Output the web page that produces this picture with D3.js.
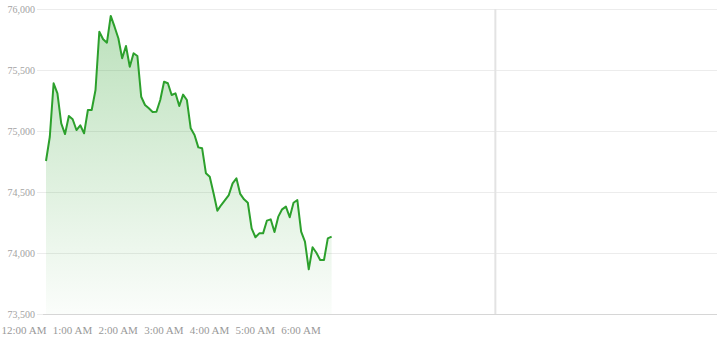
<!DOCTYPE html>
<html>
<head>
<meta charset="utf-8">
<script src="https://cdn.jsdelivr.net/npm/d3@7"></script>
<style>
  html, body { margin: 0; padding: 0; background: #fff; }
  svg { display: block; }
  .tick text { font-family: "Liberation Serif", "Times New Roman", serif; }
  .yax .tick text { font-size: 10px; fill: #a3a3a3; }
  .xax .tick text { font-size: 11px; fill: #999; }
</style>
</head>
<body>
<svg id="chart" width="718" height="340"></svg>
<script>
// ---- data (5-minute prices starting at 12:00 AM) ----
const startTime = "2024-01-01T00:00:00";
const intervalMinutes = 5;
const prices = [
  74754, 74953, 75391, 75309, 75063, 74975, 75123, 75096, 75008, 75047,
  74981, 75172, 75172, 75336, 75814, 75752, 75724, 75943, 75855, 75760,
  75596, 75697, 75527, 75637, 75615, 75281, 75213, 75186, 75156, 75158,
  75254, 75404, 75391, 75295, 75309, 75205, 75298, 75254, 75022, 74967,
  74866, 74858, 74653, 74625, 74489, 74347, 74393, 74434, 74475, 74571,
  74612, 74484, 74440, 74412, 74202, 74129, 74161, 74161, 74265, 74276,
  74172, 74298, 74358, 74380, 74293, 74412, 74434, 74175, 74093, 73866,
  74047, 74002, 73943, 73943, 74120, 74134
];
const xDomainEnd = "2024-01-01T14:41:00";
const markerTimes = ["2024-01-01T09:50:00"];
const xTickLabels = ["12:00 AM", "1:00 AM", "2:00 AM", "3:00 AM", "4:00 AM", "5:00 AM", "6:00 AM"];
const yTicks = [73500, 74000, 74500, 75000, 75500, 76000];

(function () {
const parse = d3.isoParse;
const t0 = parse(startTime);
const data = prices.map((v, i) => ({ t: new Date(+t0 + i * intervalMinutes * 60000), v }));
const tickDates = xTickLabels.map(s => d3.timeParse("%Y-%m-%d %I:%M %p")("2024-01-01 " + s));

const svg = d3.select("#chart");
const mLeft = 46, mRight = 717, mTop = 9, mBottom = 314;

const x = d3.scaleTime().domain([t0, parse(xDomainEnd)]).range([mLeft, mRight]);
const y = d3.scaleLinear().domain([73500, 76000]).range([mBottom, mTop]);

// gradient
const defs = svg.append("defs");
const grad = defs.append("linearGradient")
  .attr("id", "areaGrad").attr("gradientUnits", "userSpaceOnUse")
  .attr("x1", 0).attr("x2", 0)
  .attr("y1", y(d3.max(prices))).attr("y2", y(73500));
grad.append("stop").attr("offset", "0%").attr("stop-color", "#2ca02c").attr("stop-opacity", 0.32);
grad.append("stop").attr("offset", "100%").attr("stop-color", "#2ca02c").attr("stop-opacity", 0.02);

// y grid + labels
const yAxis = svg.append("g").attr("class", "yax")
  .attr("transform", `translate(${mLeft},0)`)
  .call(d3.axisLeft(y).tickValues(yTicks).tickSize(0).tickFormat(d3.format(",")))
  .call(g => g.select(".domain").remove());
yAxis.selectAll(".tick line")
  .attr("x1", mRight - mLeft).attr("x2", -9)
  .attr("stroke", "#ececec").attr("stroke-width", 1);
yAxis.selectAll(".tick text").attr("x", -11).attr("dy", "0.32em");

// marker vertical line
svg.append("g").selectAll("line").data(markerTimes).join("line")
  .attr("x1", d => x(parse(d))).attr("x2", d => x(parse(d)))
  .attr("y1", mTop).attr("y2", mBottom)
  .attr("stroke", "#e3e3e3").attr("stroke-width", 2);

// area
const area = d3.area().x(d => x(d.t)).y0(y(73500)).y1(d => y(d.v));
svg.append("path").datum(data).attr("d", area).attr("fill", "url(#areaGrad)");

// line
const line = d3.line().x(d => x(d.t)).y(d => y(d.v));
svg.append("path").datum(data).attr("d", line)
  .attr("fill", "none").attr("stroke", "#2ca02c").attr("stroke-width", 2)
  .attr("stroke-linejoin", "round");

// bottom axis line
svg.append("line")
  .attr("x1", mLeft - 3).attr("x2", mRight)
  .attr("y1", y(73500) + 0.5).attr("y2", y(73500) + 0.5)
  .attr("stroke", "#d6d6d6").attr("stroke-width", 1);

// x labels
const xAxis = svg.append("g").attr("class", "xax")
  .attr("transform", `translate(0,${mBottom})`)
  .call(d3.axisBottom(x).tickValues(tickDates).tickSize(0).tickFormat((d, i) => xTickLabels[i]))
  .call(g => g.select(".domain").remove());
xAxis.selectAll(".tick text").attr("text-anchor", "end").attr("y", 12).attr("dy", "0.71em");
})();
</script>
</body>
</html>
